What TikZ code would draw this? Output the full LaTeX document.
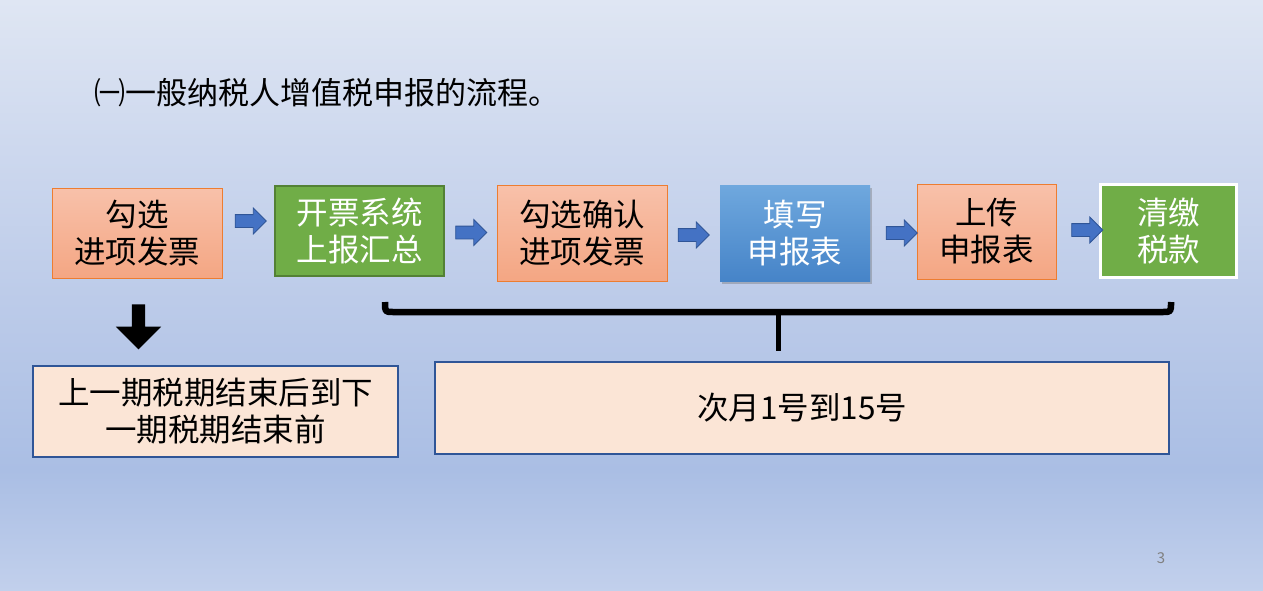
\documentclass[tikz,border=0pt]{standalone}
\usepackage{fontspec}
\setmainfont{Noto Sans CJK SC}
\usetikzlibrary{shapes.arrows,shadows}
\definecolor{bgA}{RGB}{223,230,243}
\definecolor{bgB}{RGB}{205,216,238}
\definecolor{bgC}{RGB}{188,203,233}
\definecolor{bgD}{RGB}{170,190,228}
\definecolor{bgE}{RGB}{194,208,236}
\definecolor{salTop}{RGB}{248,193,170}
\definecolor{salBot}{RGB}{244,166,131}
\definecolor{salLine}{RGB}{237,125,49}
\definecolor{grn}{RGB}{112,173,71}
\definecolor{grnLine}{RGB}{83,129,53}
\definecolor{bluTop}{RGB}{111,168,222}
\definecolor{bluBot}{RGB}{70,132,200}
\definecolor{arrFill}{RGB}{68,114,196}
\definecolor{arrLine}{RGB}{47,85,151}
\definecolor{peach}{RGB}{251,229,214}
\pgfdeclareverticalshading{bgshade}{100bp}{color(0bp)=(bgE); color(25bp)=(bgE); color(35.2bp)=(bgD); color(49.6bp)=(bgC); color(62.3bp)=(bgB); color(75bp)=(bgA); color(100bp)=(bgA)}
\tikzset{
  txt/.style={font=\fontsize{31.5}{37}\selectfont, align=center, inner sep=0pt},
  salbox/.style={txt, rectangle, top color=salTop, bottom color=salBot, draw=salLine, line width=1pt, text=black},
  grnbox/.style={txt, rectangle, fill=grn, draw=grnLine, line width=2pt, text=white},
  wgrnbox/.style={txt, rectangle, fill=grn, draw=white, line width=3pt, text=white},
  blubox/.style={txt, rectangle, top color=bluTop, bottom color=bluBot, draw=none, text=white,
    drop shadow={shadow xshift=2pt, shadow yshift=-3pt, opacity=0.35, fill=black!60}},
  blockarrow/.style={single arrow, single arrow head extend=6.5pt, inner sep=0pt,
    text height=12pt, text depth=0pt, text width=0pt,
    minimum height=31pt, fill=arrFill, draw=arrLine, line width=0.8pt},
  peachbox/.style={txt, rectangle, fill=peach, draw=arrLine, line width=1.5pt, text=black},
}
\begin{document}
\begin{tikzpicture}[x=1pt,y=-1pt]
\useasboundingbox (0,0) rectangle (1263,591);
\shade[shading=bgshade] (0,0) rectangle (1263,591);

\node[anchor=west, font=\fontsize{31}{36}\selectfont, inner sep=0pt] (title) at (94,93) {㈠一般纳税人增值税申报的流程。};

\node[salbox, minimum width=170pt, minimum height=90pt] (b1) at (137,233) {勾选\\进项发票};
\node[grnbox, minimum width=169pt, minimum height=90pt] (b2) at (359.5,231) {开票系统\\上报汇总};
\node[salbox, minimum width=170pt, minimum height=96pt] (b3) at (582,233) {勾选确认\\进项发票};
\node[blubox, minimum width=150pt, minimum height=96pt] (b4) at (795,233) {填写\\申报表};
\node[salbox, minimum width=139pt, minimum height=95pt] (b5) at (986.5,231.5) {上传\\申报表};
\node[wgrnbox, minimum width=136pt, minimum height=93pt] (b6) at (1168.5,231) {清缴\\税款};

\node[blockarrow] (a1) at (247.5,221) {};
\node[blockarrow] (a2) at (468,232.5) {};
\node[blockarrow] (a3) at (690.5,235) {};
\node[blockarrow] (a4) at (898.5,233) {};
\node[blockarrow] (a5) at (1084,230) {};

\node[single arrow, rotate=-90, single arrow head extend=16pt, inner sep=0pt,
  text height=13pt, text depth=0pt, text width=0pt,
  minimum height=45pt, fill=black] (down) at (138.5,323.5) {};

\node[peachbox, minimum width=365pt, minimum height=91pt] (p1) at (215.5,411.5) {上一期税期结束后到下\\一期税期结束前};
\node[peachbox, minimum width=734pt, minimum height=92pt] (p2) at (802,408) {次月1号到15号};

\coordinate (bl) at (385,302);
\coordinate (br) at (1171,302);
\coordinate (bm) at (778,312);
\coordinate (stemEnd) at (778,351);
\draw[line width=6.5pt, line join=round] (bl) .. controls (385,312) .. (393,312) -- (1163,312) .. controls (1171,312) .. (br);
\draw[line width=5pt] (bm) -- (stemEnd);

\node[text=black!50, font=\fontsize{15}{17}\selectfont] (pg) at (1161,558) {3};
\end{tikzpicture}
\end{document}
